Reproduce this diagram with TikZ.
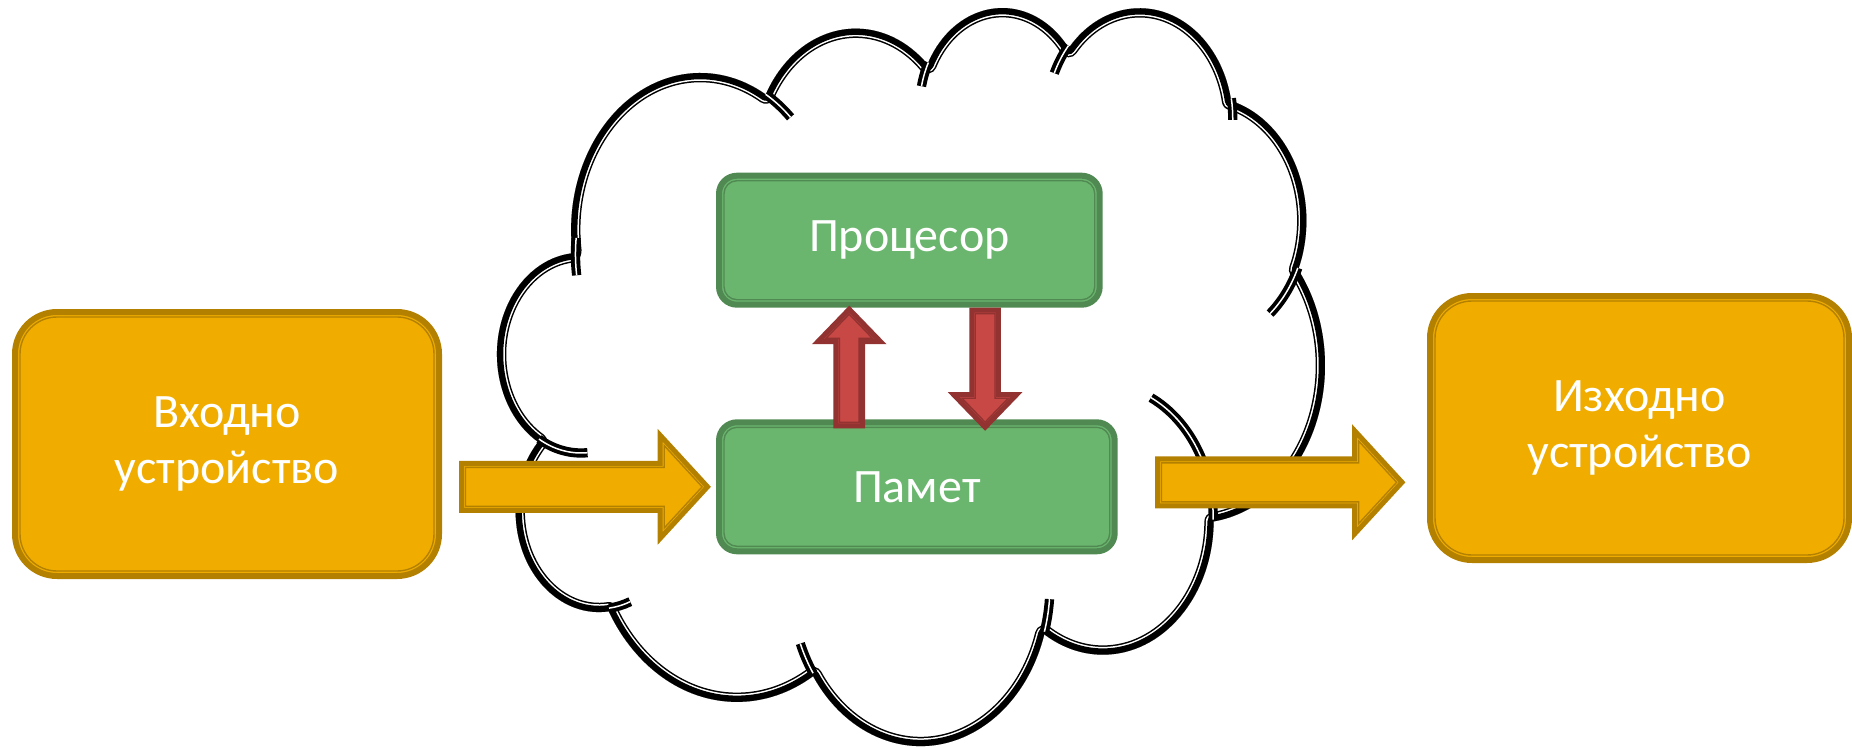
\documentclass[tikz,border=0pt]{standalone}
\usepackage{fontspec}
\setmainfont{Carlito}
\usetikzlibrary{calc}

\definecolor{goldfill}{RGB}{240,173,0}
\definecolor{golddark}{RGB}{180,128,0}
\definecolor{greenfill}{RGB}{107,182,110}
\definecolor{greendark}{RGB}{80,138,82}
\definecolor{redfill}{RGB}{199,72,69}
\definecolor{reddark}{RGB}{146,50,49}

% office style arc: radii, start angle, sweep (true angles)
\newcommand{\cloudarc}[4]{%
  arc[x radius=#1, y radius=#2,
    start angle={#3+asin(sin(atan2(#1*sin(#3),#2*cos(#3))-(#3)))},
    end angle={#3+#4+asin(sin(atan2(#1*sin(#3+#4),#2*cos(#3+#4))-(#3+#4)))}]}

\newcommand{\cloudpath}{(39.00,143.70)
  \cloudarc{67.53}{91.90}{-190.4875}{123.7805}
  \cloudarc{53.33}{72.67}{-144.1024}{89.9452}
  \cloudarc{43.65}{59.45}{-145.8079}{99.7230}
  \cloudarc{48.57}{65.95}{-130.9861}{117.2417}
  \cloudarc{53.33}{72.73}{-78.7089}{109.0269}
  \cloudarc{67.75}{92.20}{-46.2673}{130.2690}
  \cloudarc{57.85}{78.67}{0.6250}{114.0333}
  \cloudarc{67.52}{92.15}{22.4516}{115.1726}
  \cloudarc{77.20}{105.43}{66.2426}{75.7110}
  \cloudarc{43.60}{59.18}{-274.9421}{146.7356}
  \cloudarc{43.45}{59.45}{-246.8285}{152.5189}
  -- cycle}

% block arrow: style, tail, tip, shaft half width, head half width, head length
\newcommand{\blockarrow}[6]{%
  \coordinate (bh) at ($(#3)!#6!(#2)$);
  \draw[#1] ($(#2)!#4!90:(#3)$) -- ($(bh)!#4!-90:(#2)$)
    -- ($(bh)!#5!-90:(#2)$) -- (#3) -- ($(bh)!#5!90:(#2)$)
    -- ($(bh)!#4!90:(#2)$) -- ($(#2)!#4!-90:(#3)$) -- cycle;}

\tikzset{
  ybox/.style={draw=golddark, fill=goldfill, line width=6pt,
    rounded corners=42pt, minimum height=264pt, inner sep=0pt,
    outer sep=0pt, text=white, align=center,
    font=\fontsize{48}{56}\selectfont},
  gbox/.style={draw=greendark, fill=greenfill, line width=6pt,
    rounded corners=18pt, minimum height=129pt, inner sep=0pt,
    outer sep=0pt, text=white, font=\fontsize{48}{56}\selectfont},
  thinline/.style={draw=#1, line width=1.4pt},
  yarrow/.style={draw=golddark, fill=goldfill, line width=5pt},
  rarrow/.style={draw=reddark, fill=redfill, line width=5pt},
  cloudinner/.style={draw=black, line width=3.9pt, double=white,
    double distance=1.5pt}
}

\begin{document}
\begin{tikzpicture}[x=1pt, y=-1pt]
  \useasboundingbox (0,0) rectangle (1852,747);

  % cloud
  \begin{scope}[shift={(497.65,5.66)}, x=1.9143pt, y=-1.7077pt]
    \begin{scope}
      \clip \cloudpath;
      \draw[line width=18.6pt, line join=round] \cloudpath;
      \draw[white, line width=15.6pt, line join=round] \cloudpath;
      \draw[line width=12.6pt, line join=round] \cloudpath;
    \end{scope}
    \draw[cloudinner]
      (46.93,261.77) \cloudarc{43.45}{59.45}{86.742}{26.4295}
      (69.28,348.99) \cloudarc{43.60}{59.18}{73.6105}{11.4475}
      (164.78,390.90) \cloudarc{67.52}{92.15}{137.6242}{14.0811}
      (288.27,347.51) \cloudarc{67.52}{92.15}{6.4533}{15.9984}
      (341.29,229.54) \cloudarc{57.85}{78.67}{-70.2924}{70.9174}
      (417.98,153.54) \cloudarc{53.33}{72.73}{30.318}{27.7515}
      (383.24,54.26) \cloudarc{48.57}{65.95}{-13.7443}{14.8589}
      (290.78,39.52) \cloudarc{48.57}{65.95}{-149.1815}{18.1954}
      (221.41,47.20) \cloudarc{43.65}{59.45}{-163.4943}{17.6864}
      (140.00,51.92) \cloudarc{67.53}{91.90}{-66.707}{12.3194}
      (41.27,157.89) \cloudarc{67.53}{91.90}{-190.4875}{18.5342};
  \end{scope}

  \node[ybox, minimum width=424pt] (input) at (227,444) {Входно\\устройство};
  \node[ybox, minimum width=419pt] (output) at (1639.5,428) {Изходно\\устройство};
  \node[gbox, minimum width=380.7pt] (cpu) at (909.35,240.2) {Процесор};
  \node[gbox, minimum width=395.7pt] (mem) at (916.85,486.8) {Памет};

  \draw[thinline=golddark, rounded corners=37pt]
    ([shift={(5,5)}]input.north west) rectangle ([shift={(-5,-5)}]input.south east);
  \draw[thinline=golddark, rounded corners=37pt]
    ([shift={(5,5)}]output.north west) rectangle ([shift={(-5,-5)}]output.south east);
  \draw[thinline=greendark, rounded corners=13pt]
    ([shift={(5,5)}]cpu.north west) rectangle ([shift={(-5,-5)}]cpu.south east);
  \draw[thinline=greendark, rounded corners=13pt]
    ([shift={(5,5)}]mem.north west) rectangle ([shift={(-5,-5)}]mem.south east);

  % input -> memory -> output
  \coordinate (ia) at ($(input.east |- mem.west)+(22.5,0)$);
  \coordinate (ib) at ($(mem.west)+(-11.5,0)$);
  \coordinate (oa) at ($(mem.east)+(42.8,-4.5)$);
  \coordinate (ob) at ($(output.west |- mem.east)+(-28,-4.5)$);
  \blockarrow{yarrow}{ia}{ib}{23.5pt}{51.5pt}{47.3pt}
  \blockarrow{yarrow}{oa}{ob}{23.5pt}{51.5pt}{47.3pt}
  \coordinate (ia2) at ($(ia)!4pt!(ib)$);
  \coordinate (ib2) at ($(ib)!5.4pt!(ia)$);
  \coordinate (oa2) at ($(oa)!4pt!(ob)$);
  \coordinate (ob2) at ($(ob)!5.4pt!(oa)$);
  \blockarrow{thinline=golddark}{ia2}{ib2}{19.5pt}{41.2pt}{37.9pt}
  \blockarrow{thinline=golddark}{oa2}{ob2}{19.5pt}{41.2pt}{37.9pt}

  % memory <-> processor
  \coordinate (ua) at ($(mem.north)+(-67.65,3.5)$);
  \coordinate (ub) at ($(cpu.south)+(-60.15,4.5)$);
  \coordinate (da) at ($(cpu.south)+(75.75,5.5)$);
  \coordinate (db) at ($(mem.north)+(68.25,4.9)$);
  \blockarrow{rarrow}{ua}{ub}{13.35pt}{31.4pt}{32.5pt}
  \blockarrow{rarrow}{da}{db}{13.35pt}{31.4pt}{32.5pt}
  \coordinate (ua2) at ($(ua)!3.5pt!(ub)$);
  \coordinate (ub2) at ($(ub)!5pt!(ua)$);
  \coordinate (da2) at ($(da)!3.5pt!(db)$);
  \coordinate (db2) at ($(db)!5pt!(da)$);
  \blockarrow{thinline=reddark}{ua2}{ub2}{9.85pt}{23.1pt}{24pt}
  \blockarrow{thinline=reddark}{da2}{db2}{9.85pt}{23.1pt}{24pt}
\end{tikzpicture}
\end{document}
